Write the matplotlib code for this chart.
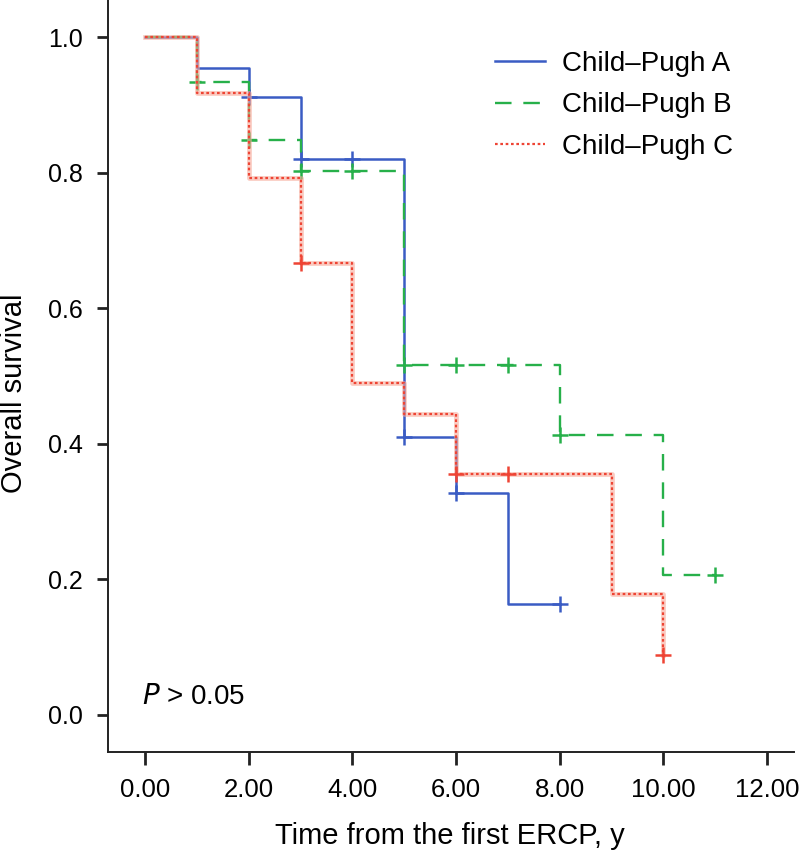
import numpy as np
import matplotlib
matplotlib.use("Agg")
import matplotlib.pyplot as plt

plt.rcParams['font.family'] = ['Liberation Sans', 'DejaVu Sans']

# Kaplan-Meier steps
a_times = [0, 1, 2, 3, 5, 6, 7, 8]
a_surv = [1.0, 0.955, 0.912, 0.82, 0.41, 0.328, 0.164, 0.164]
a_cens = [2, 3, 4, 5, 6, 8]

b_times = [0, 1, 2, 3, 5, 8, 10, 11]
b_surv = [1.0, 0.933, 0.848, 0.803, 0.516, 0.413, 0.206, 0.206]
b_cens = [1, 2, 3, 4, 5, 6, 7, 8, 11]

c_times = [0, 1, 2, 3, 4, 5, 6, 9, 10]
c_surv = [1.0, 0.917, 0.792, 0.667, 0.489, 0.444, 0.356, 0.178, 0.089]
c_cens = [3, 6, 7, 10]

labels = ['Child\u2013Pugh A', 'Child\u2013Pugh B', 'Child\u2013Pugh C']
xticks = [0, 2, 4, 6, 8, 10, 12]
yticks = [0.0, 0.2, 0.4, 0.6, 0.8, 1.0]


def surv_at(times, surv, t):
    # value of the step curve at time t
    i = np.searchsorted(times, t, side='right') - 1
    return np.asarray(surv)[i]


fig = plt.figure(figsize=(8, 8.51), dpi=100)
ax = fig.add_axes([108 / 800, 1 - 752 / 851, 686 / 800, 752 / 851])

blue = '#3a5cc4'
green = '#27b04a'
red = '#ee4434'

ax.step(a_times, a_surv, where='post', color=blue, lw=1.8, label=labels[0])
ax.plot(a_cens, surv_at(a_times, a_surv, a_cens), ls='none', marker='+',
        ms=11, mew=1.8, color=blue)

ax.step(b_times, b_surv, where='post', color=green, lw=1.7,
        ls=(0, (7, 5)), label=labels[1])
ax.plot(b_cens, surv_at(b_times, b_surv, b_cens), ls='none', marker='+',
        ms=11, mew=1.8, color=green)

ax.step(c_times, c_surv, where='post', color='#f7a898', lw=3.4, alpha=0.6)
ax.step(c_times, c_surv, where='post', color=red, lw=1.6,
        ls=(0, (1.2, 1.2)), label=labels[2])
ax.plot(c_cens, surv_at(c_times, c_surv, c_cens), ls='none', marker='+',
        ms=11, mew=1.8, color=red)

ax.set_xlim(-0.714, 12.52)
ax.set_ylim(-0.0546, 1.0546)
ax.set_xticks(xticks)
ax.set_xticklabels([f'{v:.2f}' for v in xticks])
ax.set_yticks(yticks)
ax.set_yticklabels([f'{v:.1f}' for v in yticks])

for s in ['top', 'right']:
    ax.spines[s].set_visible(False)
for s in ['left', 'bottom']:
    ax.spines[s].set_linewidth(1.4)
    ax.spines[s].set_color('#222222')

ax.tick_params(axis='x', length=9, width=2, pad=10, labelsize=18.5,
               color='#222222')
ax.tick_params(axis='y', length=8, width=2, pad=10, labelsize=18,
               color='#222222')

ax.set_xlabel('Time from the first ERCP, y', fontsize=21)
ax.set_ylabel('Overall survival', fontsize=21)
ax.xaxis.set_label_coords(0.4985, -0.0925)
ax.yaxis.set_label_coords(-0.1166, 0.477)

ax.text((142 - 108) / 686, (752 - 697) / 752,
        r'$\it{P}$' + ' > 0.05', transform=ax.transAxes, fontsize=20,
        va='center', ha='left')

leg = ax.legend(loc='upper left', bbox_to_anchor=(0.564, 0.932),
                frameon=False, fontsize=20, handlelength=1.8,
                handletextpad=0.61, labelspacing=0.55, borderpad=0,
                borderaxespad=0)

fig.savefig('out.png', dpi=100)
